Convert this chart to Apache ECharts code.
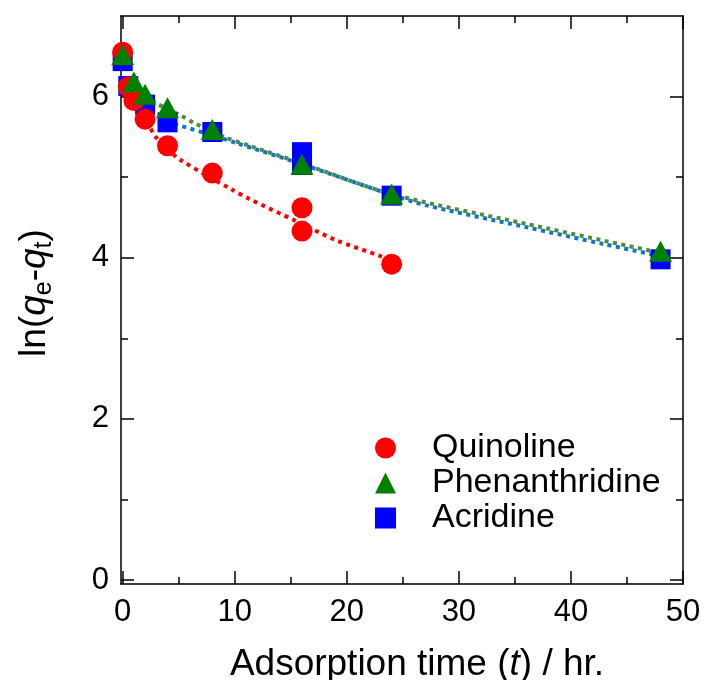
<!DOCTYPE html>
<html>
<head>
<meta charset="utf-8">
<script src="https://cdn.jsdelivr.net/npm/echarts@6/dist/echarts.min.js"></script>
<style>html,body{margin:0;padding:0;background:#fff}#c{width:707px;height:680px}</style>
</head>
<body>
<div id="c"></div>
<script>
// ---- data ----
const quinolineT = [0, 0.5, 1, 2, 4, 8, 16, 16, 24];
const quinolineY = [6.55, 6.12, 5.95, 5.72, 5.39, 5.05, 4.62, 4.33, 3.92];
const phenT = [0, 1, 2, 4, 8, 16, 24, 48];
const phenY = [6.52, 6.18, 6.03, 5.86, 5.59, 5.16, 4.79, 4.08];
const acrT = [0, 0.5, 2, 4, 8, 16, 16, 24, 48];
const acrY = [6.44, 6.13, 5.90, 5.68, 5.56, 5.31, 5.15, 4.77, 3.98];
// dotted fit curves
const qFitT = [2.5, 3, 4.7, 5.3, 7.5, 9.7, 11.3, 15.4, 19, 23, 24];
const qFitY = [5.60, 5.49, 5.26, 5.20, 5.02, 4.85, 4.73, 4.46, 4.22, 4.02, 3.96];
const pFitT = [2.6, 3.2, 5.25, 6.4, 8, 9.2, 11.3, 16, 24, 36, 48];
const pFitY = [5.95, 5.90, 5.76, 5.67, 5.57, 5.49, 5.39, 5.17, 4.79, 4.42, 4.06];
const aFitT = [4.6, 8, 10, 16, 24, 27.1, 36, 42.9, 48];
const aFitY = [5.66, 5.52, 5.43, 5.16, 4.78, 4.65, 4.38, 4.17, 4.02];
// ticks
const xMajor = [0, 10, 20, 30, 40, 50];
const xMinor = [5, 15, 25, 35, 45];
const yMajor = [0, 2, 4, 6];
const yMinor = [1, 3, 5];
const names = ['Quinoline', 'Phenanthridine', 'Acridine'];

const zip = (a, b) => a.map((v, i) => [v, b[i]]);
const FONT = 'Liberation Sans, Arial, Helvetica, sans-serif';
const X0 = -0.15, X1 = 50, Y0 = -0.05, Y1 = 7.0;

function xAx(pos, ticks, len, labels, showLine, extra) {
  return Object.assign({
    type: 'value', position: pos, min: X0, max: X1,
    axisLine: {show: showLine, onZero: false, lineStyle: {color: '#000', width: 1.5}},
    axisTick: {show: true, inside: true, length: len, customValues: ticks, lineStyle: {color: '#000', width: 1.5}},
    axisLabel: labels ? {show: true, customValues: labels, fontSize: 31, color: '#000', fontFamily: FONT, margin: 13} : {show: false},
    splitLine: {show: false}
  }, extra || {});
}
function yAx(pos, ticks, len, labels, showLine, extra) {
  return Object.assign({
    type: 'value', position: pos, min: Y0, max: Y1,
    axisLine: {show: showLine, onZero: false, lineStyle: {color: '#000', width: 1.5}},
    axisTick: {show: true, inside: true, length: len, customValues: ticks, lineStyle: {color: '#000', width: 1.5}},
    axisLabel: labels ? {show: true, customValues: labels, fontSize: 31, color: '#000', fontFamily: FONT, margin: 12} : {show: false},
    splitLine: {show: false}
  }, extra || {});
}

const chart = echarts.init(document.getElementById('c'), null, {renderer: 'canvas'});
chart.setOption({
  backgroundColor: '#fff',
  animation: false,
  grid: {left: 121, right: 24, top: 16, bottom: 96, containLabel: false, outerBoundsMode: 'none'},
  xAxis: [
    xAx('bottom', xMajor, 13, xMajor, true, {
      name: '{n|Adsorption time (}{i|t}{n|) / hr.}', nameLocation: 'middle', nameGap: 62,
      nameTextStyle: {padding: [0, 0, 0, 30], rich: {n: {fontSize: 37, fontFamily: FONT, color: '#000'}, i: {fontSize: 37, fontFamily: FONT, fontStyle: 'italic', color: '#000'}}}
    }),
    xAx('bottom', xMinor, 7, null, false),
    xAx('top', xMajor, 13, null, true),
    xAx('top', xMinor, 7, null, false)
  ],
  yAxis: [
    yAx('left', yMajor, 13, yMajor, true, {
      name: '{n|ln(}{i|q}{s|e}{n|-}{i|q}{s|t}{n|)}', nameLocation: 'middle', nameGap: 64, nameRotate: 90,
      nameTextStyle: {padding: [0, 0, 0, 14], rich: {
        n: {fontSize: 37, fontFamily: FONT, color: '#000', lineHeight: 44},
        i: {fontSize: 37, fontFamily: FONT, fontStyle: 'italic', color: '#000', lineHeight: 44},
        s: {fontSize: 25, fontFamily: FONT, color: '#000', lineHeight: 44, padding: [18, 0, 0, 0]}
      }}
    }),
    yAx('left', yMinor, 7, null, false),
    yAx('right', yMajor, 13, null, true),
    yAx('right', yMinor, 7, null, false)
  ],
  legend: {
    orient: 'vertical', left: 370, top: 426, itemWidth: 21, itemHeight: 21, itemGap: 1,
    data: names,
    textStyle: {fontSize: 34, fontFamily: FONT, color: '#000', padding: [0, 0, 0, 31]}
  },
  series: [
    {type: 'line', name: 'fitQ', data: zip(qFitT, qFitY), smooth: 0.3, showSymbol: false, symbol: 'none', z: 1,
     lineStyle: {color: '#ff0000', width: 4, type: [4, 4.5]}},
    {type: 'line', name: 'fitP', data: zip(pFitT, pFitY), smooth: 0.3, showSymbol: false, symbol: 'none', z: 1,
     lineStyle: {color: '#4f8a3e', width: 4, type: [4, 4.5]}},
    {type: 'line', name: 'fitA', data: zip(aFitT, aFitY), smooth: 0.3, showSymbol: false, symbol: 'none', z: 1,
     lineStyle: {color: '#0a78c8', width: 4, type: [4, 4.5]}},
    {type: 'scatter', name: names[2], data: zip(acrT, acrY), symbol: 'rect', symbolSize: 20, z: 3,
     itemStyle: {color: '#0000ff', opacity: 1}},
    {type: 'scatter', name: names[0], data: zip(quinolineT, quinolineY), symbol: 'circle', symbolSize: 21, z: 4,
     itemStyle: {color: '#ff0000', opacity: 1}},
    {type: 'scatter', name: names[1], data: zip(phenT, phenY), symbol: 'triangle', symbolSize: [23, 21], z: 5,
     itemStyle: {color: '#008000', opacity: 1}}
  ]
});
</script>
</body>
</html>
